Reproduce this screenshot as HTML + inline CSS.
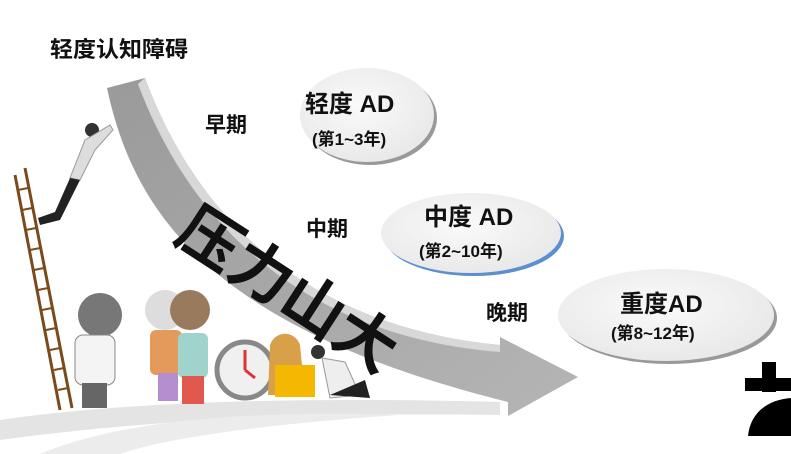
<!DOCTYPE html>
<html><head><meta charset="utf-8"><style>
html,body{margin:0;padding:0;background:#fff;}
svg{display:block;}
text{font-family:"Liberation Sans","Noto Sans CJK SC",sans-serif;font-weight:bold;fill:#111;}
</style></head><body>
<svg width="791" height="454" viewBox="0 0 791 454" xmlns="http://www.w3.org/2000/svg">
<defs>
<linearGradient id="arr" x1="0" y1="0" x2="1" y2="1">
<stop offset="0" stop-color="#9a9a9a"/><stop offset="1" stop-color="#b5b5b5"/>
</linearGradient>
<radialGradient id="ell" cx="0.45" cy="0.4" r="0.7">
<stop offset="0" stop-color="#fafafa"/><stop offset="1" stop-color="#e6e6e6"/>
</radialGradient>
</defs>
<!-- ground swoosh -->
<path d="M0,420 C150,398 350,398 500,402 L500,415 C300,412 150,420 0,440 Z" fill="#e4e4e4"/>
<path d="M40,454 C120,420 250,410 400,415 C250,425 160,440 120,454 Z" fill="#ececec"/>
<!-- arrow band -->
<path d="M107,88 L145,78 C190,200 290,325 500,345 L500,337 L578,377 L508,416 L508,402 C220,330 135,220 107,88 Z" fill="url(#arr)"/>
<path d="M145,78 C190,200 290,325 500,345 L500,352 C290,335 185,210 138,84 Z" fill="#d8d8d8"/>
<!-- ladder -->
<g stroke="#7a4a1c" stroke-width="3">
<line x1="15" y1="175" x2="60" y2="410"/><line x1="25" y1="168" x2="72" y2="408"/>
</g>
<g stroke="#7a4a1c" stroke-width="2">
<line x1="18" y1="190" x2="28" y2="188"/><line x1="22" y1="210" x2="32" y2="208"/><line x1="26" y1="230" x2="36" y2="228"/><line x1="30" y1="250" x2="40" y2="248"/><line x1="34" y1="270" x2="44" y2="268"/><line x1="38" y1="290" x2="48" y2="288"/><line x1="42" y1="310" x2="52" y2="308"/><line x1="46" y1="330" x2="56" y2="328"/><line x1="50" y1="350" x2="60" y2="348"/><line x1="54" y1="370" x2="64" y2="368"/><line x1="58" y1="390" x2="68" y2="388"/>
</g>
<!-- climbing man -->
<circle cx="92" cy="130" r="7" fill="#333"/>
<path d="M85,140 L110,125 L113,130 L95,150 L80,180 L70,178 Z" fill="#ddd" stroke="#999"/>
<path d="M70,178 L80,180 L60,220 L40,225 L38,218 L55,212 Z" fill="#222"/>
<!-- people -->
<circle cx="100" cy="315" r="22" fill="#777"/>
<rect x="75" y="335" width="40" height="50" rx="8" fill="#f4f4f4" stroke="#888"/>
<rect x="82" y="383" width="25" height="25" fill="#666"/>
<circle cx="165" cy="310" r="20" fill="#ddd"/>
<circle cx="190" cy="310" r="20" fill="#9a7a5c"/>
<rect x="150" y="330" width="32" height="45" rx="6" fill="#e39a5a"/>
<rect x="178" y="333" width="30" height="45" rx="6" fill="#9fd3cc"/>
<rect x="158" y="373" width="20" height="28" fill="#b48fd0"/><rect x="182" y="376" width="22" height="28" fill="#e0584e"/>
<!-- clock & coins -->
<circle cx="245" cy="370" r="28" fill="#f0f0f0" stroke="#888" stroke-width="5"/>
<line x1="245" y1="370" x2="245" y2="350" stroke="#d33" stroke-width="3"/><line x1="245" y1="370" x2="255" y2="378" stroke="#d33" stroke-width="3"/>
<path d="M270,345 C275,330 295,330 300,345 L305,395 L268,395 Z" fill="#d9a04a"/>
<rect x="275" y="365" width="40" height="32" fill="#f5b800"/>
<!-- crouching man -->
<circle cx="318" cy="352" r="7" fill="#333"/>
<path d="M322,358 L345,362 L360,395 L330,398 Z" fill="#eee" stroke="#999"/>
<path d="M330,395 L365,380 L370,398 Z" fill="#222"/>
<!-- ellipses -->
<ellipse cx="370" cy="118" rx="67" ry="47" fill="#999"/>
<ellipse cx="367" cy="115" rx="67" ry="47" fill="url(#ell)"/>
<ellipse cx="474" cy="236" rx="90" ry="40" fill="#5b8fd0"/>
<ellipse cx="471" cy="233" rx="90" ry="40" fill="url(#ell)"/>
<ellipse cx="669" cy="318" rx="108" ry="46" fill="#999"/>
<ellipse cx="666" cy="315" rx="108" ry="46" fill="url(#ell)"/>
<!-- labels -->
<text x="50" y="57" font-size="22" textLength="138" lengthAdjust="spacingAndGlyphs">轻度认知障碍</text>
<text x="205" y="132" font-size="21">早期</text>
<text x="306" y="236" font-size="21">中期</text>
<text x="486" y="320" font-size="21">晚期</text>
<text x="305" y="112" font-size="24">轻度 AD</text>
<text x="312" y="145" font-size="17">(第1~3年)</text>
<text x="424" y="225" font-size="24">中度 AD</text>
<text x="419" y="257" font-size="17">(第2~10年)</text>
<text x="620" y="312" font-size="24">重度AD</text>
<text x="611" y="339" font-size="17">(第8~12年)</text>
<text x="0" y="0" font-size="62" transform="translate(172,240) rotate(33)">压力山大</text>
<!-- tombstone -->
<rect x="762" y="362" width="14" height="30" fill="#000"/>
<rect x="745" y="378" width="46" height="13" fill="#000"/>
<path d="M748,436 C750,415 765,400 791,398 L791,436 Z" fill="#000"/>
</svg>
</body></html>
